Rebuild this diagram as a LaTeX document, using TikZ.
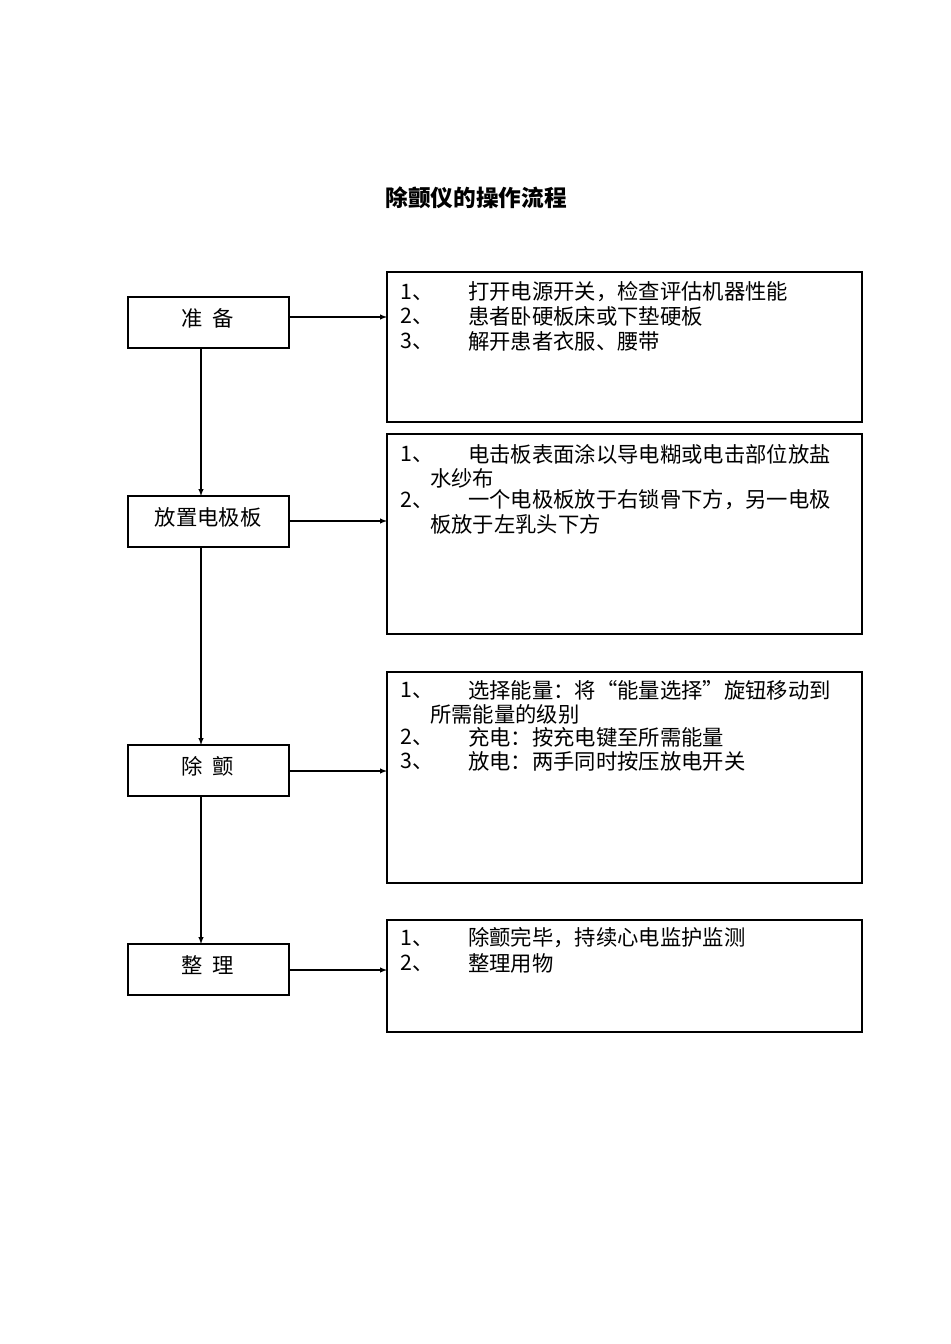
\documentclass[tikz,border=0pt]{standalone}
\usepackage{fontspec}
\newfontfamily\cjk{Noto Sans CJK SC}
\begin{document}
\begin{tikzpicture}[x=0.75pt,y=-0.75pt,
 lbox/.style={draw,thick,line width=0.8pt},
 txt/.style={anchor=west,inner sep=0pt,font=\cjk\fontsize{16pt}{18pt}\selectfont},
 arr/.style={-latex,line width=0.8pt}]
\useasboundingbox (0,0) rectangle (950,1344);
\node[font=\cjk\bfseries\fontsize{17pt}{20pt}\selectfont] (title) at (476,198) {除颤仪的操作流程};
% left boxes
\foreach \n/\t/\b/\s in {a/297/348/准\ \ 备, b/496/547/放置电极板, c/745/796/除\ \ 颤, d/944/995/整\ \ 理}{
 \draw[lbox] (128,\t) rectangle (289,\b);
 \node[txt,anchor=center] (\n) at (208,{(\t+\b)/2-4}) {\s};
 \coordinate (\n R) at (289,{\t+20});
}
\foreach \n/\t/\b in {A/272/422, B/434/634, C/672/883, D/920/1032}{
 \draw[lbox] (387,\t) rectangle (862,\b);
 \coordinate (\n L) at (387,0);
}
\coordinate (aB) at (201,348); \coordinate (bT) at (201,496);
\coordinate (bB) at (201,547); \coordinate (cT) at (201,745);
\coordinate (cB) at (201,796); \coordinate (dT) at (201,944);
\draw[arr] (aB) -- (bT);
\draw[arr] (bB) -- (cT);
\draw[arr] (cB) -- (dT);
\draw[arr] (aR) -- (aR -| AL);
\draw[arr] (289,521) coordinate (bR2) -- (bR2 -| BL);
\draw[arr] (289,771) coordinate (cR2) -- (cR2 -| CL);
\draw[arr] (289,970) coordinate (dR2) -- (dR2 -| DL);
% texts
\foreach \y/\num/\s in {292/1、/打开电源开关，检查评估机器性能, 316/2、/患者卧硬板床或下垫硬板, 341/3、/解开患者衣服、腰带,
 454/1、/电击板表面涂以导电糊或电击部位放盐, 500/2、/一个电极板放于右锁骨下方，另一电极,
 690/1、/选择能量：将“能量选择”旋钮移动到, 737/2、/充电：按充电键至所需能量, 761/3、/放电：两手同时按压放电开关,
 938/1、/除颤完毕，持续心电监护监测, 963/2、/整理用物}{
 \node[txt] at (400,\y) {\num};
 \node[txt] at (468,\y) {\s};
}
\node[txt] (w1) at (430,478) {水纱布};
\node[txt] (w2) at (430,524) {板放于左乳头下方};
\node[txt] (w3) at (430,714) {所需能量的级别};
\end{tikzpicture}
\end{document}
